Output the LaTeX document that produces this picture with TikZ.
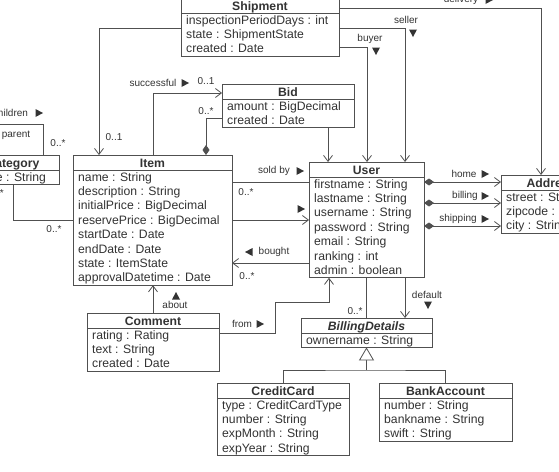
\documentclass[tikz,border=0pt]{standalone}
\usepackage{fontspec}
\setmainfont{Liberation Sans}
\usetikzlibrary{arrows.meta}
\definecolor{ink}{HTML}{333333}
\definecolor{ln}{HTML}{505050}
\tikzset{
 clsbox/.style={draw=ln, line width=0.8pt, inner sep=0pt, outer sep=0pt, fill=white},
 clsline/.style={draw=ln, line width=0.8pt},
 clstitle/.style={anchor=base, inner sep=0pt, font=\fontsize{12.2}{14}\selectfont\bfseries, text=ink},
 clsattr/.style={anchor=base west, inner sep=0pt, font=\fontsize{12.2}{14}\selectfont, text=ink},
 lbl/.style={inner sep=0pt, font=\fontsize{10}{12}\selectfont, text=ink},
 conn/.style={draw=ln, line width=0.8pt},
 nav/.style={conn, -{Straight Barb[length=6pt,width=9pt]}},
 comp/.style={conn, {Diamond[length=10pt,width=7pt]}-{Straight Barb[length=6pt,width=9pt]}},
 compn/.style={conn, {Diamond[length=10pt,width=7pt]}-},
 gen/.style={conn, -{Triangle[open, length=13pt, width=15pt, fill=white]}},
 dirR/.pic={\fill[ink] (-3.5,-4) -- (4,0) -- (-3.5,4) -- cycle;},
}
\newcommand\umlcls[7]{%
  \pgfmathsetmacro\clsw{#3-#2}%
  \pgfmathsetmacro\clsh{15+14.4*#6}%
  \node[clsbox, minimum width=\clsw pt, minimum height=\clsh pt, anchor=north west] (#1) at (#2,#4) {};
  \draw[clsline] (#2,#4+15) -- (#3,#4+15);
  \node[clstitle] at ({(#2+#3)/2},#4+12) {#5};
  \foreach \a [count=\i] in {#7} {\node[clsattr] at (#2+5,{#4+26+14.4*(\i-1)}) {\a};}%
}
\begin{document}
\begin{tikzpicture}[x=1pt,y=-1pt]
\useasboundingbox (0,0) rectangle (559,471);
\fill[white] (0,0) rectangle (559,471);
\clip (0,0) rectangle (559,471);

% classes
\umlcls{shipment}{181}{339}{-2}{Shipment}{3}{inspectionPeriodDays : int, state : ShipmentState, created : Date}
\umlcls{bid}{222}{354}{84}{Bid}{2}{amount : BigDecimal, created : Date}
\umlcls{cat}{-33}{59}{155}{Category}{1}{name : String}
\umlcls{item}{73}{232}{155}{Item}{8}{name : String, description : String, initialPrice : BigDecimal, reservePrice : BigDecimal, startDate : Date, endDate : Date, state : ItemState, approvalDatetime : Date}
\umlcls{user}{309}{424}{162}{User}{7}{firstname : String, lastname : String, username : String, password : String, email : String, ranking : int, admin : boolean}
\umlcls{addr}{501}{601}{175}{Address}{3}{street : String, zipcode : String, city : String}
\umlcls{comment}{87}{219}{313}{Comment}{3}{rating : Rating, text : String, created : Date}
\umlcls{bd}{301}{432}{318}{\itshape BillingDetails}{1}{ownername : String}
\umlcls{cc}{217}{349}{383}{CreditCard}{4}{type : CreditCardType, number : String, expMonth : String, expYear : String}
\umlcls{ba}{379}{512}{383}{BankAccount}{3}{number : String, bankname : String, swift : String}

% Shipment -> Item
\coordinate (s1) at (99,28);
\draw[nav] (shipment.west |- s1) -- (s1) -- (item.north -| s1);
\node[lbl] at (114,137) {0..1};

% Shipment -> User (buyer, seller)
\coordinate (b1) at (367,47);
\draw[nav] (shipment.east |- b1) -- (b1) -- (user.north -| b1);
\node[lbl] at (370,39) {buyer};
\pic[rotate=-90] at (376,51) {dirR};
\coordinate (se1) at (405,28);
\draw[nav] (shipment.east |- se1) -- (se1) -- (user.north -| se1);
\node[lbl] at (406,20) {seller};
\pic[rotate=-90] at (413,33) {dirR};

% Shipment -> Address (delivery)
\coordinate (d1) at (541,8);
\draw[nav] (shipment.east |- d1) -- (d1) -- (addr.north -| d1);
\node[lbl] at (461,0) {delivery};
\pic at (489,0) {dirR};

% Item -> Bid successful
\coordinate (i1) at (153,93);
\draw[nav] (item.north -| i1) -- (i1) -- (bid.west |- i1);
\node[lbl] at (153,83) {successful};
\pic at (185,83) {dirR};
\node[lbl] at (206,81) {0..1};

% Item <>- Bid
\coordinate (i2) at (206,118);
\draw[compn] (item.north -| i2) -- (i2) -- (bid.west |- i2);
\node[lbl] at (206,111) {0..*};

% Bid -> User
\coordinate (bu) at (328,0);
\draw[nav] (bid.south -| bu) -- (user.north -| bu);

% Category self association
\coordinate (k1) at (43,124);
\coordinate (k2) at (-20,124);
\draw[conn] (cat.north -| k1) -- (k1) -- (k2) -- (cat.north -| k2);
\node[lbl] at (10.5,113) {children};
\pic at (39,113) {dirR};
\node[lbl] at (16,135) {parent};
\node[lbl] at (58,143) {0..*};

% Category - Item
\coordinate (k3) at (13,220);
\draw[conn] (cat.south -| k3) -- (k3) -- (item.west |- k3);
\node[lbl] at (54,229) {0..*};
\node[lbl, anchor=east] at (4,193) {0..*};

% Item - User sold by
\coordinate (u1) at (0,182);
\draw[conn] (item.east |- u1) -- (user.west |- u1);
\node[lbl] at (274,171) {sold by};
\pic at (300,171) {dirR};
\node[lbl] at (246,192) {0..*};

% Item -> User (unlabelled)
\coordinate (u2) at (0,220);
\draw[nav] (item.east |- u2) -- (user.west |- u2);
\pic at (301,209) {dirR};

% User -> Item bought
\coordinate (u3) at (0,263);
\draw[nav] (user.west |- u3) -- (item.east |- u3);
\pic[rotate=180] at (249,252) {dirR};
\node[lbl] at (274,252) {bought};
\node[lbl] at (247,276) {0..*};

% User <>-> Address
\coordinate (a1) at (0,182);
\coordinate (a2) at (0,203);
\coordinate (a3) at (0,226);
\draw[comp] (user.east |- a1) -- (addr.west |- a1);
\draw[comp] (user.east |- a2) -- (addr.west |- a2);
\draw[comp] (user.east |- a3) -- (addr.west |- a3);
\node[lbl] at (464,174) {home};
\pic at (485,174) {dirR};
\node[lbl] at (465,196) {billing};
\pic at (485,196) {dirR};
\node[lbl] at (458,219) {shipping};
\pic at (485,219) {dirR};

% Comment -> Item about
\coordinate (c1) at (153,0);
\draw[nav] (comment.north -| c1) -- (item.south -| c1);
\pic[rotate=90] at (176,296) {dirR};
\node[lbl] at (175,305) {about};

% Comment -> User from
\coordinate (f1) at (275,333);
\coordinate (f2) at (275,302);
\coordinate (f3) at (329,302);
\draw[nav] (comment.east |- f1) -- (f1) -- (f2) -- (f3) -- (user.south -| f3);
\node[lbl] at (242,324) {from};
\pic at (260,324) {dirR};

% User - BillingDetails
\coordinate (bd1) at (366,0);
\draw[conn] (user.south -| bd1) -- (bd.north -| bd1);
\node[lbl] at (355,311) {0..*};
\coordinate (bd2) at (405,0);
\draw[nav] (user.south -| bd2) -- (bd.north -| bd2);
\node[lbl] at (427,295) {default};
\pic[rotate=-90] at (428,305) {dirR};

% Generalization
\coordinate (g1) at (366.5,370);
\draw[conn] (cc.north) |- (g1) -| (ba.north);
\draw[gen] (g1) -- (bd.south);
\end{tikzpicture}
\end{document}
